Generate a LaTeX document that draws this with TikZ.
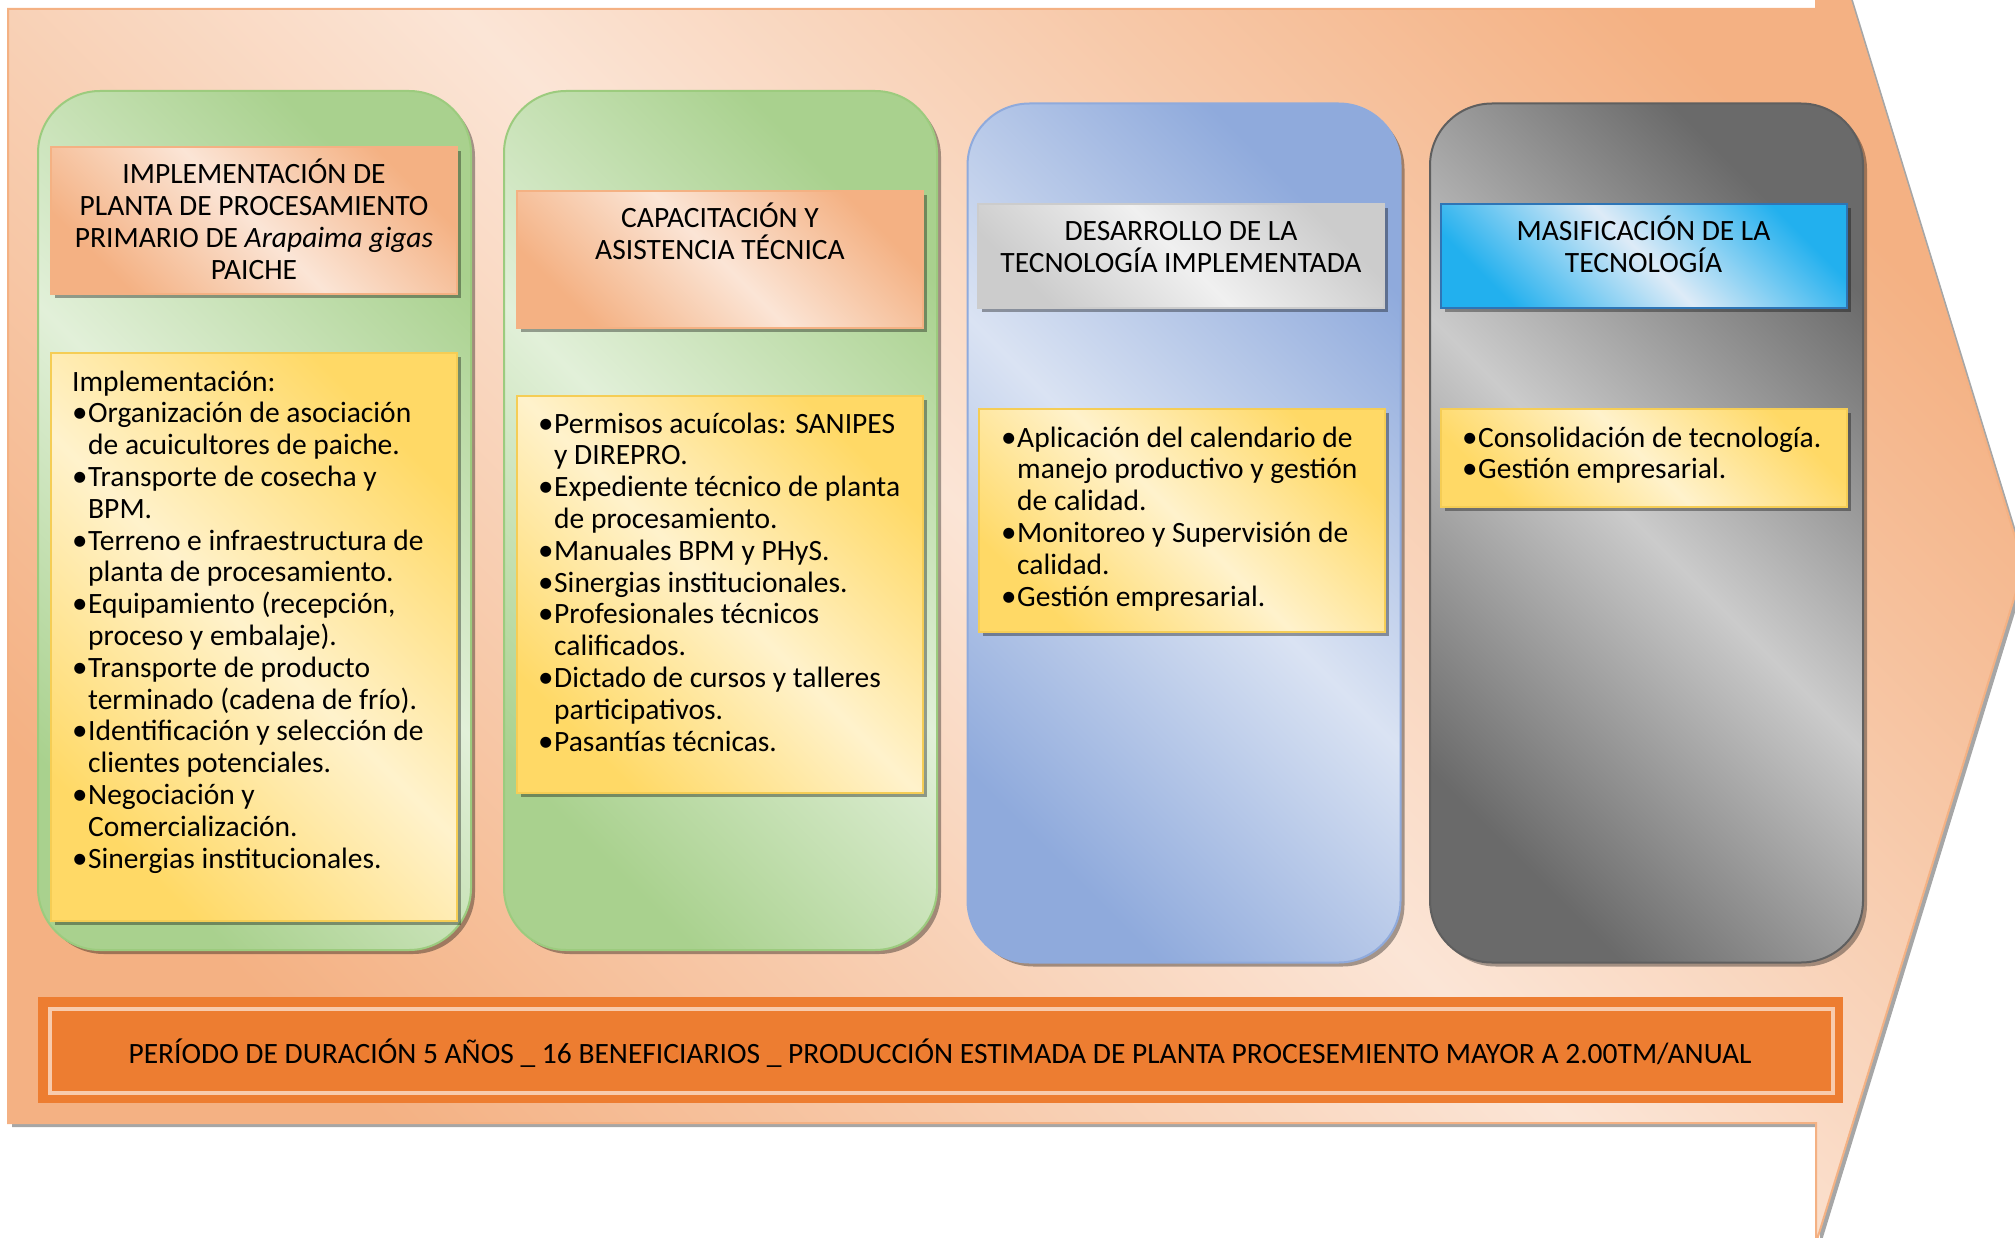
\documentclass[tikz,border=0pt]{standalone}
\usepackage{fontspec}
\setmainfont{Carlito}
\usetikzlibrary{shadows}

% palette
\definecolor{peachDark}{HTML}{F4B183}
\definecolor{peachLight}{HTML}{FBE5D6}
\definecolor{greenDark}{HTML}{A9D18E}
\definecolor{greenLight}{HTML}{E2F0D9}
\definecolor{greenLine}{HTML}{9CCB7E}
\definecolor{blueDark}{HTML}{8FAADC}
\definecolor{blueLight}{HTML}{DAE3F3}
\definecolor{greyDark}{HTML}{6A6A6A}
\definecolor{greyLight}{HTML}{CBCBCB}
\definecolor{greyLine}{HTML}{5F5F5F}
\definecolor{silverDark}{HTML}{CCCCCC}
\definecolor{silverLight}{HTML}{F0F0F0}
\definecolor{skyDark}{HTML}{22B0EE}
\definecolor{skyLight}{HTML}{DEEBF7}
\definecolor{skyLine}{HTML}{2E75B6}
\definecolor{goldDark}{HTML}{FFD966}
\definecolor{goldLight}{HTML}{FFF2CC}
\definecolor{goldLine}{HTML}{F5CD55}
\definecolor{barOrange}{HTML}{ED7D31}
\definecolor{barStripe}{HTML}{F8CBAD}

% bullet and hanging indent for the lists
\newcommand\blt{\makebox[16pt][l]{\fontsize{31}{0}\selectfont\textbullet}}
\newcommand\hng{\hspace*{16pt}}

\tikzset{
  shadetwo/.style 2 args={top color=#1,bottom color=#1,middle color=#2,shading angle=-45},
  softshadow/.style={drop shadow={shadow xshift=4pt,shadow yshift=-4pt,opacity=0.35,fill=black}},
  column/.style={line width=2pt,rounded corners=62pt,minimum width=433pt,
    minimum height=859pt,inner sep=0pt,softshadow},
  panel/.style={line width=2pt,minimum width=406pt,inner sep=0pt,softshadow},
  headtext/.style={inner sep=0pt,anchor=base},
  listtext/.style={inner sep=0pt,anchor=base west},
}

\begin{document}
\begin{tikzpicture}[x=1pt,y=-1pt,font=\fontsize{29.5}{31.8}\selectfont]
\useasboundingbox (0,0) rectangle (2015,1238);
\clip (0,0) rectangle (2015,1238);

% large background arrow
\path[draw=peachDark,line width=2pt,shadetwo={peachDark}{peachLight},softshadow]
  (8,9) -- (1816,9) -- (1816,-111) -- (2024,566) -- (1816,1243)
  -- (1816,1123) -- (8,1123) -- cycle;

% four stage columns
\node[column,draw=greenLine,shadetwo={greenDark}{greenLight}] (c1) at (254.5,520.5) {};
\node[column,draw=greenLine,shadetwo={greenDark}{greenLight}] (c2) at (720.5,520.5) {};
\node[column,draw=blueDark,shadetwo={blueDark}{blueLight}] (c3) at (1184,533) {};
\node[column,draw=greyLine,shadetwo={greyDark}{greyLight}] (c4) at (1646.5,533) {};

% stage titles
\node[panel,draw=peachDark,shadetwo={peachDark}{peachLight},minimum height=147pt] (h1) at (254,220.5) {};
\node[panel,draw=peachDark,shadetwo={peachDark}{peachLight},minimum height=137pt] (h2) at (720,259.5) {};
\node[panel,draw=silverDark,shadetwo={silverDark}{silverLight},minimum height=104pt] (h3) at (1181,256) {};
\node[panel,draw=skyLine,shadetwo={skyDark}{skyLight},minimum height=104pt] (h4) at (1643.5,256) {};

% activity lists
\node[panel,draw=goldLine,shadetwo={goldDark}{goldLight},minimum height=568pt] (b1) at (254,637) {};
\node[panel,draw=goldLine,shadetwo={goldDark}{goldLight},minimum height=397pt] (b2) at (720,594.5) {};
\node[panel,draw=goldLine,shadetwo={goldDark}{goldLight},minimum height=223pt] (b3) at (1181.5,520.5) {};
\node[panel,draw=goldLine,shadetwo={goldDark}{goldLight},minimum height=98pt] (b4) at (1643.5,458) {};

% title texts
\node[headtext] (h1t) at (254,184) {\begin{minipage}[t]{400pt}\centering
  IMPLEMENTACIÓN DE\\ PLANTA DE PROCESAMIENTO\\ PRIMARIO DE \textit{Arapaima gigas}\\ PAICHE\end{minipage}};
\node[headtext] (h2t) at (720,228) {\begin{minipage}[t]{400pt}\centering
  CAPACITACIÓN Y\\ ASISTENCIA TÉCNICA\end{minipage}};
\node[headtext] (h3t) at (1181,241) {\begin{minipage}[t]{400pt}\centering
  DESARROLLO DE LA\\ TECNOLOGÍA IMPLEMENTADA\end{minipage}};
\node[headtext] (h4t) at (1643.5,241) {\begin{minipage}[t]{400pt}\centering
  MASIFICACIÓN DE LA\\ TECNOLOGÍA\end{minipage}};

% list texts
\node[listtext] (b1t) at (72,391) {\begin{minipage}[t]{380pt}\raggedright
  Implementación:\\
  \blt Organización de asociación\\
  \hng de acuicultores de paiche.\\
  \blt Transporte de cosecha y\\
  \hng BPM.\\
  \blt Terreno e infraestructura de\\
  \hng planta de procesamiento.\\
  \blt Equipamiento (recepción,\\
  \hng proceso y embalaje).\\
  \blt Transporte de producto\\
  \hng terminado (cadena de frío).\\
  \blt Identificación y selección de\\
  \hng clientes potenciales.\\
  \blt Negociación y\\
  \hng Comercialización.\\
  \blt Sinergias institucionales.\end{minipage}};
\node[listtext] (b2t) at (538,433) {\begin{minipage}[t]{380pt}\raggedright
  \blt Permisos acuícolas: SANIPES\\
  \hng y DIREPRO.\\
  \blt Expediente técnico de planta\\
  \hng de procesamiento.\\
  \blt Manuales BPM y PHyS.\\
  \blt Sinergias institucionales.\\
  \blt Profesionales técnicos\\
  \hng calificados.\\
  \blt Dictado de cursos y talleres\\
  \hng participativos.\\
  \blt Pasantías técnicas.\end{minipage}};
\node[listtext] (b3t) at (1001,447) {\begin{minipage}[t]{380pt}\raggedright
  \blt Aplicación del calendario de\\
  \hng manejo productivo y gestión\\
  \hng de calidad.\\
  \blt Monitoreo y Supervisión de\\
  \hng calidad.\\
  \blt Gestión empresarial.\end{minipage}};
\node[listtext] (b4t) at (1462,447) {\begin{minipage}[t]{380pt}\raggedright
  \blt Consolidación de tecnología.\\
  \blt Gestión empresarial.\end{minipage}};

% duration banner
\node[fill=barOrange,minimum width=1805pt,minimum height=106pt,inner sep=0pt] (bar) at (940.5,1050) {};
\node[draw=barStripe,line width=4.5pt,minimum width=1783pt,minimum height=84pt,inner sep=0pt] (barin) at (941.5,1051) {};
\node[headtext,font=\fontsize{29.5}{34}\selectfont] (bart) at (940,1063)
  {PERÍODO DE DURACIÓN 5 AÑOS \_ 16 BENEFICIARIOS \_ PRODUCCIÓN ESTIMADA DE PLANTA PROCESEMIENTO MAYOR A 2.00TM/ANUAL};
\end{tikzpicture}
\end{document}
